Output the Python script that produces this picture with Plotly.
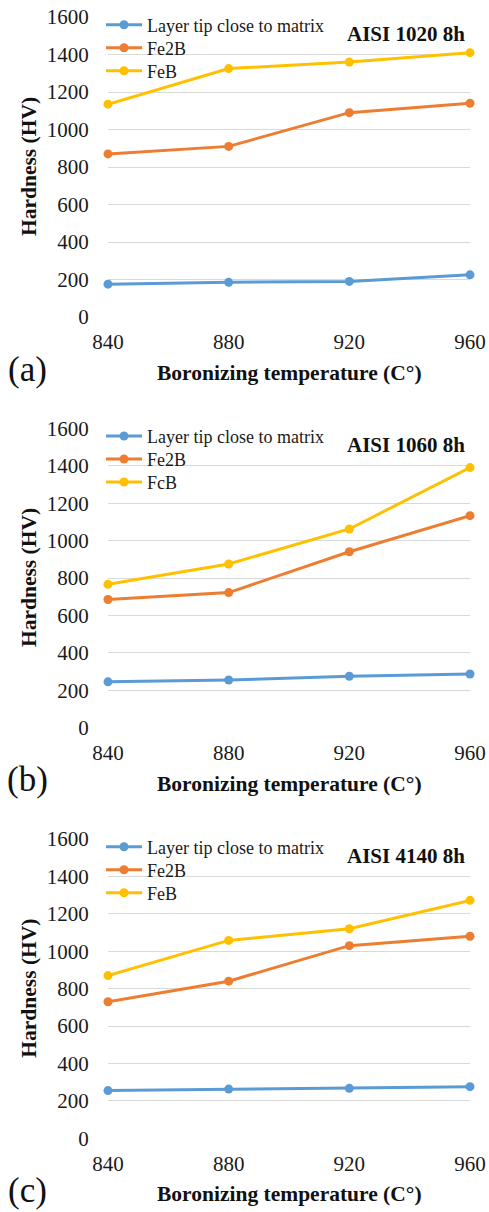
import plotly.graph_objects as go

# ---- data ----
temperatures = [840, 880, 920, 960]
x_tick_labels = ["840", "880", "920", "960"]
y_tick_values = [0, 200, 400, 600, 800, 1000, 1200, 1400, 1600]

names_a = ["Layer tip close to matrix", "Fe2B", "FeB"]
names_b = ["Layer tip close to matrix", "Fe2B", "FcB"]
names_c = ["Layer tip close to matrix", "Fe2B", "FeB"]

a_tip = [175, 185, 190, 225]
a_fe2b = [870, 910, 1090, 1140]
a_feb = [1135, 1325, 1360, 1410]

b_tip = [245, 255, 275, 287]
b_fe2b = [685, 722, 940, 1133]
b_feb = [766, 875, 1062, 1390]

c_tip = [255, 263, 267, 276]
c_fe2b = [730, 840, 1030, 1080]
c_feb = [870, 1058, 1120, 1272]

panel_titles = ["AISI 1020 8h", "AISI 1060 8h", "AISI 4140 8h"]
panel_labels = ["(a)", "(b)", "(c)"]
x_title = "Boronizing temperature (C°)"
y_title = "Hardness (HV)"

# ---- styling ----
W, H = 489, 1212
FONT = "Liberation Serif, Times New Roman, serif"
colors = ["#5B9BD5", "#ED7D31", "#FFC000"]
plot_left, plot_right = 108, 470
tops = [17, 428.3, 839]
bottoms = [317, 727.7, 1138.3]
legend_offsets = [8, 31, 54]   # px below plot top (entry centres)

panels = [
    (names_a, [a_tip, a_fe2b, a_feb]),
    (names_b, [b_tip, b_fe2b, b_feb]),
    (names_c, [c_tip, c_fe2b, c_feb]),
]

fig = go.Figure()
layout = dict(
    width=W, height=H, autosize=False, showlegend=True,
    margin=dict(l=0, r=0, t=0, b=0, pad=0),
    paper_bgcolor="white", plot_bgcolor="white",
    font=dict(family=FONT, color="#1a1a1a"),
    annotations=[],
)

xd = [plot_left / W, plot_right / W]
leg_index = 0
for i, (names, series) in enumerate(panels):
    k = "" if i == 0 else str(i + 1)
    for j, (n, vals, c) in enumerate(zip(names, series, colors)):
        leg_index += 1
        leg = "legend" if leg_index == 1 else "legend" + str(leg_index)
        fig.add_trace(go.Scatter(
            x=temperatures, y=vals, name=n, mode="lines+markers",
            line=dict(color=c, width=3), marker=dict(color=c, size=9),
            xaxis="x" + k, yaxis="y" + k, legend=leg, cliponaxis=False,
            showlegend=True,
        ))
        layout[leg] = dict(
            x=101 / W, xanchor="left",
            y=1 - (tops[i] + legend_offsets[j]) / H, yanchor="middle",
            bgcolor="rgba(0,0,0,0)", borderwidth=0,
            font=dict(size=18, family=FONT, color="#1a1a1a"),
            itemwidth=36, visible=True,
        )
    yd = [1 - bottoms[i] / H, 1 - tops[i] / H]
    layout["xaxis" + k] = dict(
        domain=xd, anchor="y" + k, range=[840, 960], automargin=False,
        tickvals=temperatures, ticktext=x_tick_labels,
        showgrid=False, zeroline=False, showline=False,
        ticks="outside", ticklen=6, tickcolor="rgba(0,0,0,0)",
        tickfont=dict(size=21, family=FONT, color="#1a1a1a"),
    )
    layout["yaxis" + k] = dict(
        domain=yd, anchor="x" + k, range=[0, 1600], automargin=False,
        tickvals=y_tick_values,
        showgrid=True, gridcolor="#D9D9D9", gridwidth=1,
        zeroline=False, showline=False,
        ticks="outside", ticklen=14, tickcolor="rgba(0,0,0,0)",
        tickfont=dict(size=21, family=FONT, color="#1a1a1a"),
    )
    ann = layout["annotations"]
    ann.append(dict(
        text="<b>" + panel_titles[i] + "</b>", xref="paper", yref="paper",
        x=467 / W, y=1 - (tops[i] + 17) / H, xanchor="right", yanchor="middle",
        showarrow=False, font=dict(size=21, family=FONT, color="#111"),
    ))
    ann.append(dict(
        text="<b>" + x_title + "</b>", xref="paper", yref="paper",
        x=(plot_left + plot_right) / 2 / W, y=1 - (bottoms[i] + 56) / H,
        xanchor="center", yanchor="middle",
        showarrow=False, font=dict(size=21.5, family=FONT, color="#111"),
    ))
    ann.append(dict(
        text="<b>" + y_title + "</b>", xref="paper", yref="paper",
        x=29 / W, y=1 - (tops[i] + bottoms[i]) / 2 / H, textangle=-90,
        xanchor="center", yanchor="middle",
        showarrow=False, font=dict(size=21.5, family=FONT, color="#111"),
    ))
    ann.append(dict(
        text=panel_labels[i], xref="paper", yref="paper",
        x=27 / W, y=1 - (bottoms[i] + 52) / H,
        xanchor="center", yanchor="middle",
        showarrow=False, font=dict(size=35, family=FONT, color="#111"),
    ))

fig.update_layout(**layout)
fig.write_html("out.html", config={"displayModeBar": False},
               post_script="document.body.style.margin='0';")
